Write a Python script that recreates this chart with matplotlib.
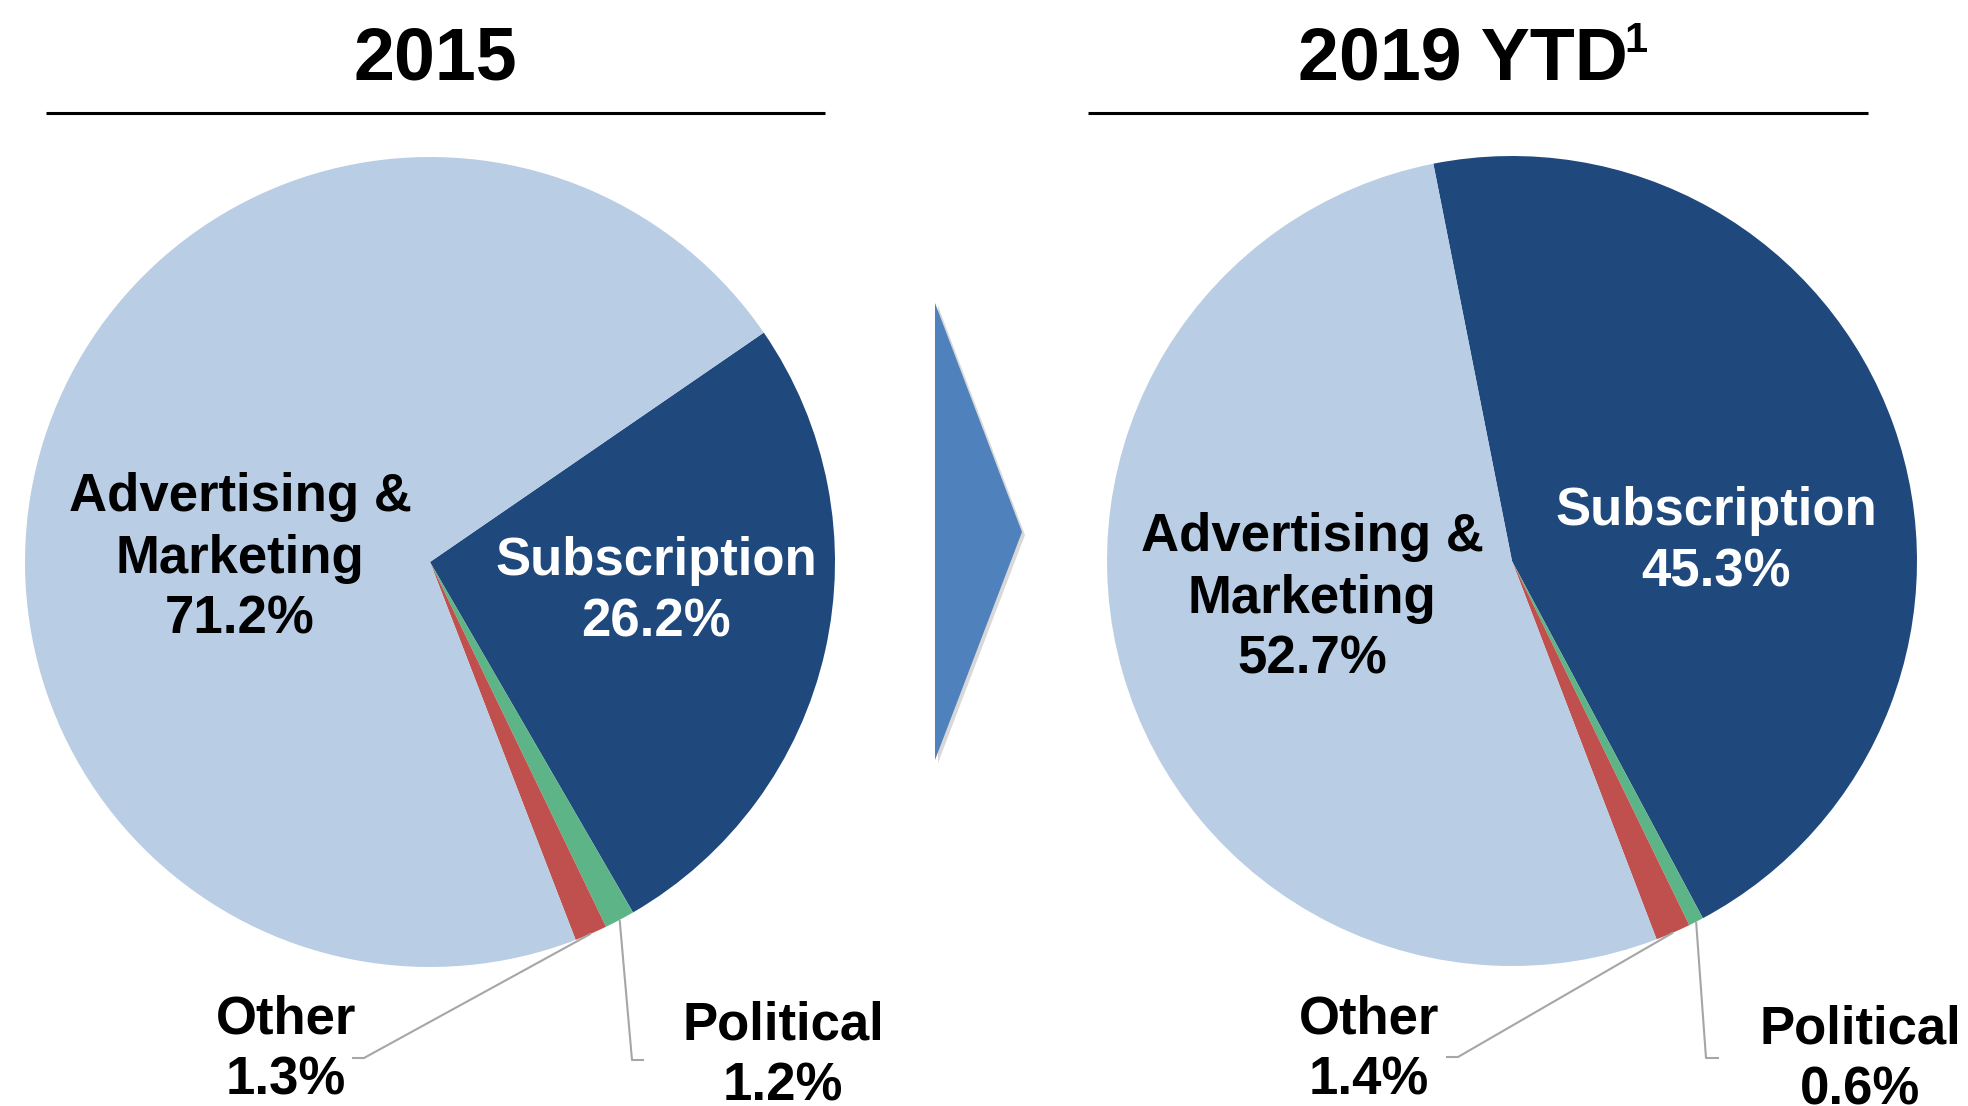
import matplotlib.pyplot as plt
from matplotlib.patches import Polygon
import numpy as np

plt.rcParams['font.family'] = ['Liberation Sans', 'DejaVu Sans']

# revenue mix, clockwise from the Subscription slice
categories = ['Subscription', 'Political', 'Other', 'Advertising & Marketing']
share_2015 = [26.2, 1.2, 1.3, 71.2]
share_2019 = [45.3, 0.6, 1.4, 52.7]
colors = ['#1F497D', '#5DB587', '#C0504D', '#B9CDE5']

W, H = 1968, 1106
R = 405

fig = plt.figure(figsize=(W / 100, H / 100), dpi=100)
ax = fig.add_axes([0, 0, 1, 1])


def py(y):
    # pixel rows from the top -> data y
    return H - y


def draw_pie(values, cx, cy, start):
    wedges, _ = ax.pie(values, colors=colors, startangle=start, counterclock=False,
                       center=(cx, py(cy)), radius=R,
                       wedgeprops=dict(linewidth=0))
    return wedges


def leader(wedge, cx, cy, bend, end):
    mid = np.deg2rad((wedge.theta1 + wedge.theta2) / 2)
    x0 = cx + R * np.cos(mid)
    y0 = py(cy) + R * np.sin(mid)
    ax.plot([x0, bend[0], end], [y0, py(bend[1]), py(bend[1])],
            color='#A6A6A6', lw=1.5, solid_capstyle='butt', zorder=3)


def label(x, y, lines, color='black', step=61.5):
    for i, s in enumerate(lines):
        ax.text(x, py(y + i * step), s, ha='center', va='baseline',
                fontsize=38, weight='bold', color=color, zorder=4)


pct = lambda v: f'{v:.1f}%'

# left pie: 2015
w15 = draw_pie(share_2015, 430, 562, 34.5)
# right pie: 2019 YTD
w19 = draw_pie(share_2019, 1512, 561, 101.2)

leader(w15[2], 430, 562, (364, 1058), 352)
leader(w15[1], 430, 562, (632, 1060), 644)
leader(w19[2], 1512, 561, (1458, 1057), 1446)
leader(w19[1], 1512, 561, (1706, 1058), 1719)

label(240, 511, ['Advertising &', 'Marketing', pct(share_2015[3])])
label(656, 575, ['Subscription', pct(share_2015[0])], color='white')
label(286, 1033, ['Other', pct(share_2015[2])])
label(783, 1039, ['Political', pct(share_2015[1])])

label(1312, 551, ['Advertising &', 'Marketing', pct(share_2019[3])])
label(1716, 525, ['Subscription', pct(share_2019[0])], color='white')
label(1369, 1033, ['Other', pct(share_2019[2])])
label(1860, 1043, ['Political', pct(share_2019[1])])

# titles with rules underneath
ax.text(435, py(79), '2015', ha='center', va='baseline', fontsize=53, weight='bold')
ax.text(1298, py(79), '2019 YTD', ha='left', va='baseline', fontsize=53, weight='bold')
ax.text(1624, py(52), '1', ha='left', va='baseline', fontsize=30, weight='bold')
ax.plot([46, 825], [py(113), py(113)], color='black', lw=2.2, solid_capstyle='butt')
ax.plot([1088, 1868], [py(113), py(113)], color='black', lw=2.2, solid_capstyle='butt')

# arrow between the two years
arrow = [(935, py(303)), (1022, py(532)), (935, py(760))]
shadow = [(x + 3, y - 3) for x, y in arrow]
ax.add_patch(Polygon(shadow, closed=True, facecolor='#7F7F7F', alpha=0.3, lw=0, zorder=1))
ax.add_patch(Polygon(arrow, closed=True, facecolor='#4F81BD', lw=0, zorder=2))

ax.set_xlim(0, W)
ax.set_ylim(0, H)
ax.set_aspect('equal')
ax.axis('off')

fig.savefig('out.png', dpi=100, facecolor='white')
